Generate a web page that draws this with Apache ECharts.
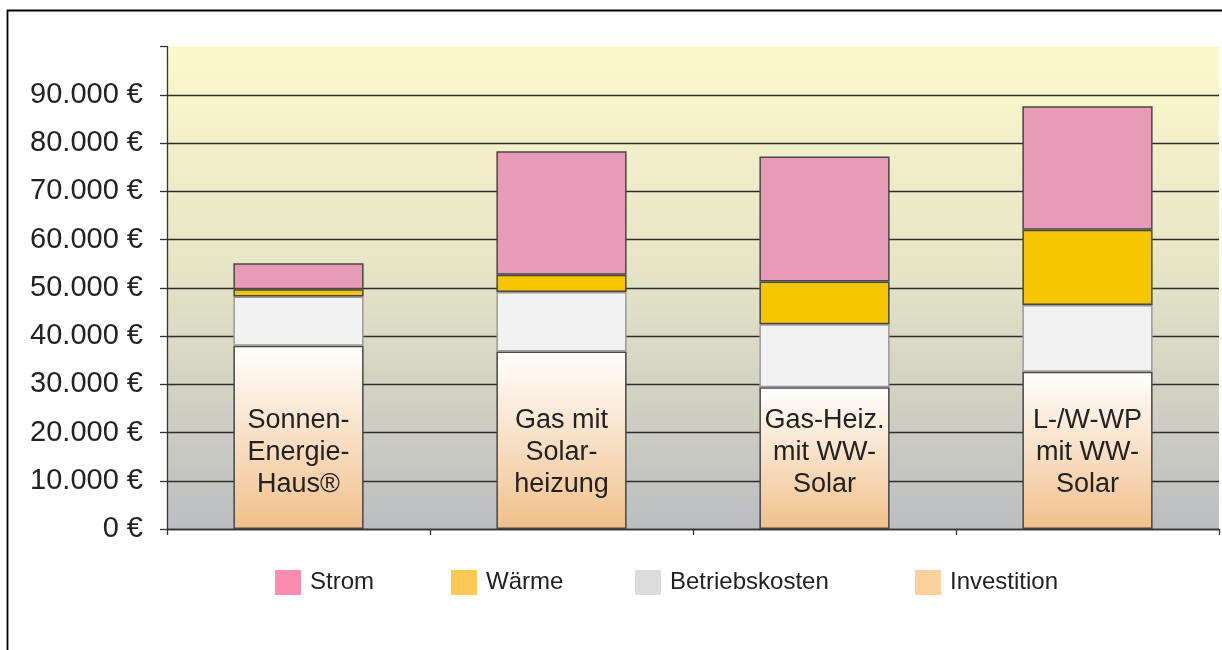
<!DOCTYPE html>
<html>
<head>
<meta charset="utf-8">
<script src="https://cdn.jsdelivr.net/npm/echarts@6/dist/echarts.min.js"></script>
<style>
html,body{margin:0;padding:0;background:#fff;}
#c{width:1222px;height:650px;}
</style>
</head>
<body>
<div id="c"></div>
<script>
var categories = ['Sonnen-\nEnergie-\nHaus®', 'Gas mit\nSolar-\nheizung', 'Gas-Heiz.\nmit WW-\nSolar', 'L-/W-WP\nmit WW-\nSolar'];
var investition = [38000, 36800, 29400, 32600];
var betriebskosten = [10200, 12300, 13050, 13850];
var waerme = [1500, 3600, 8850, 15550];
var strom = [5400, 25600, 25900, 25600];
var seriesNames = ['Strom', 'Wärme', 'Betriebskosten', 'Investition'];
var legendColors = ['#fd8db0', '#fdc853', '#dcdcdc', '#fdd19c'];

var chart = echarts.init(document.getElementById('c'), null, {renderer: 'canvas'});
var FONT = '"Liberation Sans", Arial, sans-serif';
var border = '#474747';

function fmt(v) {
  if (v === 100000) return '';
  var s = String(v).replace(/\B(?=(\d{3})+(?!\d))/g, '.');
  return s + ' €';
}

var legendLefts = [275, 451, 635, 915];
var legends = seriesNames.map(function (n, i) {
  return {
    left: legendLefts[i], top: 570, padding: 0,
    icon: 'rect', itemWidth: 26, itemHeight: 25,
    data: [{name: n, itemStyle: {color: legendColors[i], borderWidth: 0}}],
    textStyle: {fontFamily: FONT, fontSize: 24, color: '#222', padding: [0, 0, 0, 4]},
    selectedMode: false
  };
});

var option = {
  backgroundColor: '#fff',
  animation: false,
  graphic: [{
    type: 'rect', shape: {x: 7.5, y: 10.5, width: 1300, height: 700},
    style: {fill: 'none', stroke: '#000', lineWidth: 1.8}, silent: true, z: 100
  }],
  legend: legends,
  grid: {
    left: 167, right: 3, top: 46.5, bottom: 121,
    show: true, borderWidth: 0,
    backgroundColor: new echarts.graphic.LinearGradient(0, 0, 0, 1, [
      {offset: 0, color: '#fbf9cc'},
      {offset: 0.45, color: '#e6e5c6'},
      {offset: 1, color: '#bcbdc1'}
    ])
  },
  xAxis: {
    type: 'category', data: categories,
    axisLine: {show: true, lineStyle: {color: '#333', width: 1.3}},
    axisTick: {show: true, length: 6, lineStyle: {color: '#333', width: 1.3}},
    axisLabel: {show: false},
    splitLine: {show: false}
  },
  yAxis: {
    type: 'value', min: 0, max: 100000, interval: 10000,
    axisLine: {show: true, lineStyle: {color: '#333', width: 1.3}},
    axisTick: {show: true, length: 7, lineStyle: {color: '#333', width: 1.3}},
    axisLabel: {formatter: fmt, fontFamily: FONT, fontSize: 29, color: '#222', margin: 24},
    splitLine: {show: true, showMaxLine: false, lineStyle: {color: '#2e2e2e', width: 1.4}}
  },
  series: [
    {
      name: 'Investition', type: 'bar', stack: 'a', data: investition, barWidth: '49.5%',
      itemStyle: {
        color: new echarts.graphic.LinearGradient(0, 0, 0, 1, [
          {offset: 0, color: '#ffffff'},
          {offset: 1, color: '#f1c08b'}
        ]),
        borderColor: border, borderWidth: 1.5
      },
      label: {
        show: true, position: 'insideBottom', distance: 28,
        formatter: function (p) { return categories[p.dataIndex]; },
        fontFamily: FONT, fontSize: 27, lineHeight: 32, color: '#222', align: 'center'
      }
    },
    {
      name: 'Betriebskosten', type: 'bar', stack: 'a', data: betriebskosten,
      itemStyle: {color: '#f2f2f2', borderColor: '#9a9a9a', borderWidth: 1.5}
    },
    {
      name: 'Wärme', type: 'bar', stack: 'a', data: waerme,
      itemStyle: {color: '#f5c500', borderColor: border, borderWidth: 1.5}
    },
    {
      name: 'Strom', type: 'bar', stack: 'a', data: strom,
      itemStyle: {color: '#e79bb6', borderColor: border, borderWidth: 1.5}
    }
  ]
};
chart.setOption(option);
</script>
</body>
</html>
